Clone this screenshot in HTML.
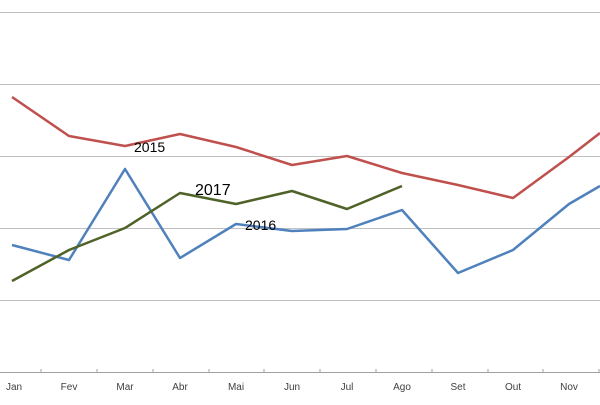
<!DOCTYPE html>
<html><head><style>body{margin:0;background:#fff}</style></head><body>
<svg width="600" height="400" xmlns="http://www.w3.org/2000/svg" font-family="Liberation Sans, sans-serif">
<g stroke="#c0c0c0" stroke-width="1">
<line x1="0" y1="12.5" x2="600" y2="12.5"/>
<line x1="0" y1="84.5" x2="600" y2="84.5"/>
<line x1="0" y1="156.5" x2="600" y2="156.5"/>
<line x1="0" y1="228.5" x2="600" y2="228.5"/>
<line x1="0" y1="300.5" x2="600" y2="300.5"/>
<line x1="0" y1="372.5" x2="600" y2="372.5" stroke="#a0a0a0"/>
<path d="M41 369v4M97 369v4M153 369v4M209 369v4M264 369v4M320 369v4M376 369v4M432 369v4M488 369v4M543 369v4M599 369v4" stroke="#a0a0a0"/>
</g>
<g font-size="10" fill="#404040" text-anchor="middle">
<text x="14" y="390">Jan</text><text x="69" y="390">Fev</text><text x="125" y="390">Mar</text><text x="180" y="390">Abr</text><text x="236" y="390">Mai</text><text x="292" y="390">Jun</text><text x="347" y="390">Jul</text><text x="402" y="390">Ago</text><text x="458" y="390">Set</text><text x="513" y="390">Out</text><text x="569" y="390">Nov</text>
</g>
<g fill="none" stroke-width="2.5" stroke-linejoin="round">
<polyline stroke="#c0504d" points="12,97 69,136 125,146 180,134 236,147 292,165 347,156 402,173 458,185 513,198 569,157 600,133"/>
<polyline stroke="#4f81bd" points="12,245 69,260 125,169 180,258 236,224 292,231 347,229 402,210 458,273 513,250 569,204 600,186"/>
<polyline stroke="#4f6228" points="12,281 69,250 125,228 180,193 236,204 292,191 347,209 402,186"/>
</g>
<text x="134" y="152" font-size="14" fill="#000">2015</text>
<text x="195" y="195" font-size="16" fill="#000">2017</text>
<text x="245" y="230" font-size="14" fill="#000">2016</text>
</svg>
</body></html>
